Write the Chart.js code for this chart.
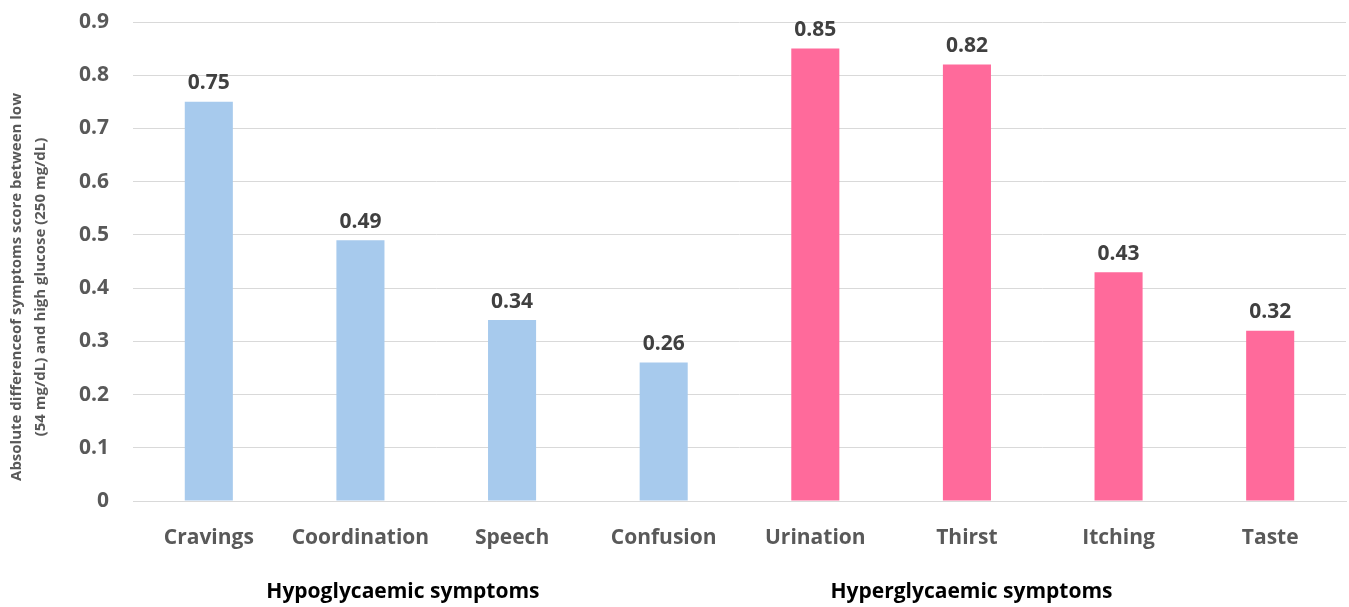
<!DOCTYPE html>
<html>
<head>
<meta charset="utf-8">
<script src="https://cdn.jsdelivr.net/npm/chart.js@4"></script>
<style>
  html, body { margin: 0; padding: 0; background: #fff; }
  #wrap { width: 1349px; height: 607px; }
</style>
</head>
<body>
<div id="wrap"><canvas id="myChart"></canvas></div>
<script>
// data
const categories = ['Cravings', 'Coordination', 'Speech', 'Confusion', 'Urination', 'Thirst', 'Itching', 'Taste'];
const scores = [0.75, 0.49, 0.34, 0.26, 0.85, 0.82, 0.43, 0.32];
const groups = ['hypo', 'hypo', 'hypo', 'hypo', 'hyper', 'hyper', 'hyper', 'hyper'];
const groupLabels = ['Hypoglycaemic symptoms', 'Hyperglycaemic symptoms'];
const groupLabelPos = [1.28, 5.03]; // category index where the group text is centred
const yTitle = ['Absolute differenceof symptoms score between low', '(54 mg/dL) and high glucose (250 mg/dL)'];

const FONT = '"Open Sans", Lato, sans-serif';
const colorOf = { hypo: '#A7CAED', hyper: '#FF6A9B' };

// labels above the bars, group names under the axis, y title
const extraText = {
  id: 'extraText',
  afterDatasetsDraw(chart) {
    const ctx = chart.ctx;
    const meta = chart.getDatasetMeta(0);
    ctx.save();
    ctx.font = 'bold 21px ' + FONT;
    ctx.fillStyle = '#404040';
    ctx.textAlign = 'center';
    ctx.textBaseline = 'bottom';
    meta.data.forEach((bar, i) => {
      ctx.fillText(scores[i].toFixed(2), bar.x, bar.y - 8);
    });
    const xs = chart.scales.x;
    ctx.fillStyle = '#000';
    ctx.textBaseline = 'middle';
    groupLabels.forEach((g, i) => {
      ctx.fillText(g, xs.getPixelForValue(groupLabelPos[i]), 592);
    });

    // rotated axis title, sits a bit lower than the plot centre like the original
    ctx.font = 'bold 15px ' + FONT;
    ctx.fillStyle = '#595959';
    ctx.translate(17, 287);
    ctx.rotate(-Math.PI / 2);
    yTitle.forEach((line, i) => {
      ctx.fillText(line, 0, i * 24);
    });
    ctx.restore();
  }
};

const ctx = document.getElementById('myChart').getContext('2d');
const myChart = new Chart(ctx, {
  type: 'bar',
  data: {
    labels: categories,
    datasets: [{
      data: scores,
      backgroundColor: groups.map(g => colorOf[g]),
      categoryPercentage: 1,
      barPercentage: 0.317
    }]
  },
  options: {
    responsive: true,
    maintainAspectRatio: false,
    animation: false,
    layout: { padding: { top: 22, right: 3, left: 6, bottom: 0 } },
    plugins: {
      legend: { display: false },
      tooltip: { enabled: false }
    },
    scales: {
      x: {
        grid: { display: false, drawTicks: false },
        border: { color: '#D9D9D9', width: 1 },
        ticks: {
          color: '#595959',
          font: { family: FONT, size: 21, weight: 'bold' },
          padding: 24,
          maxRotation: 0,
          autoSkip: false
        },
        afterFit(scale) { scale.height = 106; }
      },
      y: {
        min: 0,
        max: 0.9,
        // invisible tick marks give the gap between labels and plot
        grid: { color: '#D9D9D9', drawTicks: true, tickLength: 24, tickColor: 'rgba(0,0,0,0)' },
        border: { display: false },
        ticks: {
          stepSize: 0.1,
          color: '#595959',
          font: { family: FONT, size: 21, weight: 'bold' },
          padding: 0,
          callback: v => (Math.round(v * 10) / 10).toString()
        },
        afterFit(scale) { scale.width = 127; }
      }
    }
  },
  plugins: [extraText]
});
</script>
</body>
</html>
